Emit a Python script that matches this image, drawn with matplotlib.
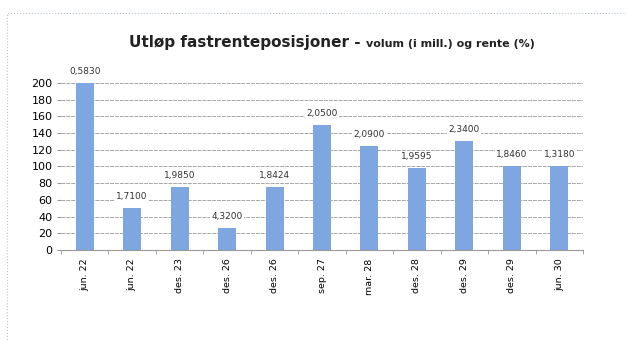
import matplotlib
matplotlib.use('Agg')
import matplotlib.pyplot as plt
from matplotlib.patches import Rectangle

# forfall og volum (mill.) med tilhørende rente
datoer = ['jun. 22', 'jun. 22', 'des. 23', 'des. 26', 'des. 26', 'sep. 27',
          'mar. 28', 'des. 28', 'des. 29', 'des. 29', 'jun. 30']
volum = [200, 50, 75, 26, 75, 150, 125, 98, 130, 100, 100]
rente = ['0,5830', '1,7100', '1,9850', '4,3200', '1,8424', '2,0500',
         '2,0900', '1,9595', '2,3400', '1,8460', '1,3180']

fig = plt.figure(figsize=(6.26, 3.41), dpi=100)
ax = fig.add_axes([0.0974, 0.267, 0.834, 0.49])

x = range(len(datoer))
ax.bar(x, volum, width=0.38, color='#7ea6e0', zorder=2)
for i, (v, r) in enumerate(zip(volum, rente)):
    ax.annotate(r, (i, v), xytext=(0, 5), textcoords='offset points',
                ha='center', va='bottom', fontsize=6.5, color='#333333',
                bbox=dict(boxstyle='square,pad=0.15', fc='white', ec='none'),
                zorder=3)

ax.set_xlim(-0.5, len(datoer) - 0.5)
ax.set_ylim(0, 200)
ax.set_yticks(range(0, 201, 20))
ax.tick_params(axis='y', labelsize=8, length=3, color='#999999', pad=3)
ax.set_xticks(x)
ax.set_xticklabels(datoer, rotation=90, fontsize=6.8)
ax.tick_params(axis='x', length=0, pad=6)
ax.set_xticks([i + 0.5 for i in range(-1, len(datoer))], minor=True)
ax.tick_params(axis='x', which='minor', length=3, color='#999999')
ax.yaxis.grid(True, color='#a8a8a8', linewidth=0.7, linestyle=(0, (4, 1)), zorder=0)
for s in ['top', 'right', 'left']:
    ax.spines[s].set_visible(False)
ax.spines['bottom'].set_color('#999999')
ax.spines['bottom'].set_linewidth(0.8)

# tittel i to deler
fig.text(0.585, 0.862, 'Utløp fastrenteposisjoner - ', ha='right', va='baseline',
         fontsize=11, fontweight='bold', color='#222222')
fig.text(0.585, 0.862, 'volum (i mill.) og rente (%)', ha='left', va='baseline',
         fontsize=8, fontweight='bold', color='#222222')

# ramme rundt diagrammet
fig.add_artist(Rectangle((0.011, -0.05), 1.2, 1.012, transform=fig.transFigure,
                         fill=False, ec='#b8c4dc', lw=0.8, ls=':'))

fig.savefig('out.png', dpi=100)
